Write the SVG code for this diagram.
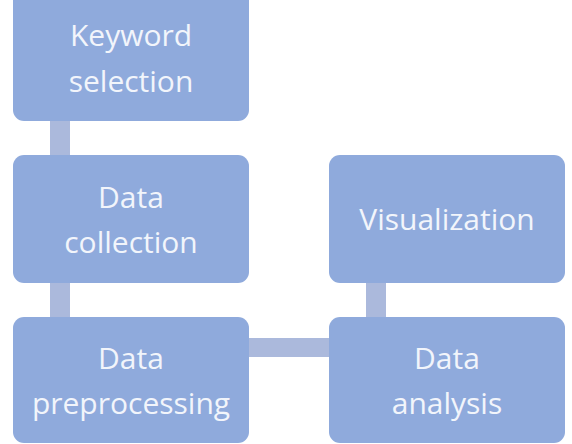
<svg xmlns="http://www.w3.org/2000/svg" width="572" height="444" viewBox="0 0 572 444">
<style>
.box{fill:#8faadc;}
.conn{fill:#abb9dc;}
.t{font-family:"Open Sans","Noto Sans","Liberation Sans",sans-serif;font-size:30px;fill:#f2f5fb;text-anchor:middle;}
</style>
<rect width="572" height="444" fill="#ffffff"/>
<g id="connectors">
<rect class="conn" x="50" y="118" width="20" height="40"/>
<rect class="conn" x="50" y="280" width="20" height="40"/>
<rect class="conn" x="246" y="338" width="86" height="19"/>
<rect class="conn" x="366" y="280" width="20" height="40"/>
</g>
<g id="keyword-selection">
<rect class="box" x="13" y="-20" width="236" height="141" rx="11"/>
<text class="t" x="131" y="46">Keyword</text>
<text class="t" x="131" y="92">selection</text>
</g>
<g id="data-collection">
<rect class="box" x="13" y="155" width="236" height="128" rx="11"/>
<text class="t" x="131" y="208">Data</text>
<text class="t" x="131" y="253">collection</text>
</g>
<g id="data-preprocessing">
<rect class="box" x="13" y="317" width="236" height="126" rx="11"/>
<text class="t" x="131" y="369">Data</text>
<text class="t" x="131" y="414">preprocessing</text>
</g>
<g id="data-analysis">
<rect class="box" x="329" y="317" width="236" height="126" rx="11"/>
<text class="t" x="447" y="369">Data</text>
<text class="t" x="447" y="414">analysis</text>
</g>
<g id="visualization">
<rect class="box" x="329" y="155" width="236" height="128" rx="11"/>
<text class="t" x="447" y="230">Visualization</text>
</g>
</svg>
